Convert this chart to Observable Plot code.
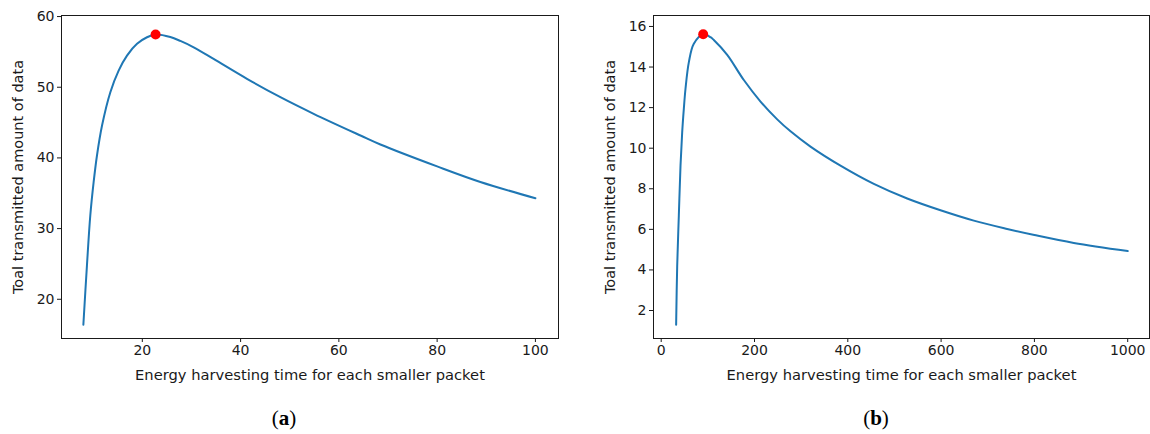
<!DOCTYPE html>
<html><head><meta charset="utf-8">
<script src="https://cdn.jsdelivr.net/npm/d3@7"></script>
<script src="https://cdn.jsdelivr.net/npm/@observablehq/plot@0.6"></script>
<style>
body{margin:0;background:#fff;width:1150px;height:434px;position:relative;overflow:hidden;font-family:"DejaVu Sans",sans-serif;}
.panel{position:absolute;top:0;}
.cap{position:absolute;top:406px;font-family:"Liberation Serif",serif;font-size:21px;transform:translateX(-50%);color:#000;}
</style></head><body>
<div id="a" class="panel" style="left:0"></div>
<div id="b" class="panel" style="left:575px"></div>
<div class="cap" style="left:284px">(<b>a</b>)</div>
<div class="cap" style="left:876px">(<b>b</b>)</div>
<script>
const xLabel = "Energy harvesting time for each smaller packet";
const yLabel = "Toal transmitted amount of data";

// Panel (a)
const xA = [8, 8.73, 9.41, 10.09, 10.77, 11.8, 13.49, 15.18, 16.88, 18.92, 20.95, 22.77, 25.7, 27.74, 30.45, 34.5, 41.3, 48.1, 54.87, 64.4, 68.45, 80, 88.8, 100];
const yA = [16.4, 24.8, 31.85, 36.56, 40.34, 44.58, 49.3, 52.36, 54.48, 56.14, 57.07, 57.45, 57.1, 56.55, 55.65, 54.0, 51.19, 48.59, 46.24, 43.17, 41.9, 38.8, 36.6, 34.3];
const peakA = [22.7, 57.45];
const xTicksA = [20, 40, 60, 80, 100];
const yTicksA = [20, 30, 40, 50, 60];

// Panel (b)
const xB = [32, 34.3, 37.8, 41.4, 45, 48.5, 52.1, 59.3, 69.9, 90, 105.7, 112.8, 141.5, 177.1, 212.9, 248.7, 277.2, 320, 384.3, 455.8, 527.3, 598.7, 670.1, 741.7, 800, 884.5, 1000];
const yB = [1.3, 4.21, 6.68, 9.14, 10.79, 11.94, 12.93, 14.24, 15.15, 15.62, 15.47, 15.33, 14.6, 13.36, 12.3, 11.42, 10.83, 10.08, 9.14, 8.24, 7.52, 6.94, 6.43, 6.02, 5.72, 5.33, 4.93];
const peakB = [90, 15.62];
const xTicksB = [0, 200, 400, 600, 800, 1000];
const yTicksB = [2, 4, 6, 8, 10, 12, 14, 16];

function panel({xs, ys, peak, xDomain, yDomain, xTicks, yTicks, marginLeft, marginRight}) {
  const data = xs.map((x, i) => ({x, y: ys[i]}));
  return Plot.plot({
    width: 575, height: 400, marginTop: 15, marginBottom: 62, marginLeft, marginRight,
    style: {fontFamily: "DejaVu Sans", fontSize: "14px", color: "#1a1a1a", background: "#fff", overflow: "visible"},
    x: {domain: xDomain},
    y: {domain: yDomain},
    marks: [
      Plot.axisX({ticks: xTicks, tickSize: 4, tickPadding: 3, label: null, tickFormat: d => String(d)}),
      Plot.axisY({ticks: yTicks, tickSize: 4, tickPadding: 3, label: null, tickFormat: d => String(d)}),
      Plot.frame({stroke: "#1a1a1a"}),
      Plot.line(data, {x: "x", y: "y", stroke: "#1f77b4", strokeWidth: 2, curve: "catmull-rom"}),
      Plot.dot([peak], {x: d => d[0], y: d => d[1], r: 5, fill: "red", stroke: "none"}),
      Plot.text([xLabel], {frameAnchor: "bottom", dy: 37, lineAnchor: "middle", textAnchor: "middle", fontSize: 14.7, text: d => d, fill: "#1a1a1a"}),
      Plot.text([yLabel], {frameAnchor: "left", dx: -43, rotate: -90, textAnchor: "middle", lineAnchor: "middle", fontSize: 14.5, text: d => d, fill: "#1a1a1a"})
    ]
  });
}

document.getElementById("a").append(panel({
  xs: xA, ys: yA, peak: peakA, xDomain: [3.55, 104.7], yDomain: [14.45, 60.15],
  xTicks: xTicksA, yTicks: yTicksA, marginLeft: 61, marginRight: 17
}));
document.getElementById("b").append(panel({
  xs: xB, ys: yB, peak: peakB, xDomain: [-16.5, 1046.7], yDomain: [0.62, 16.54],
  xTicks: xTicksB, yTicks: yTicksB, marginLeft: 78, marginRight: 1
}));
</script>
</body></html>
